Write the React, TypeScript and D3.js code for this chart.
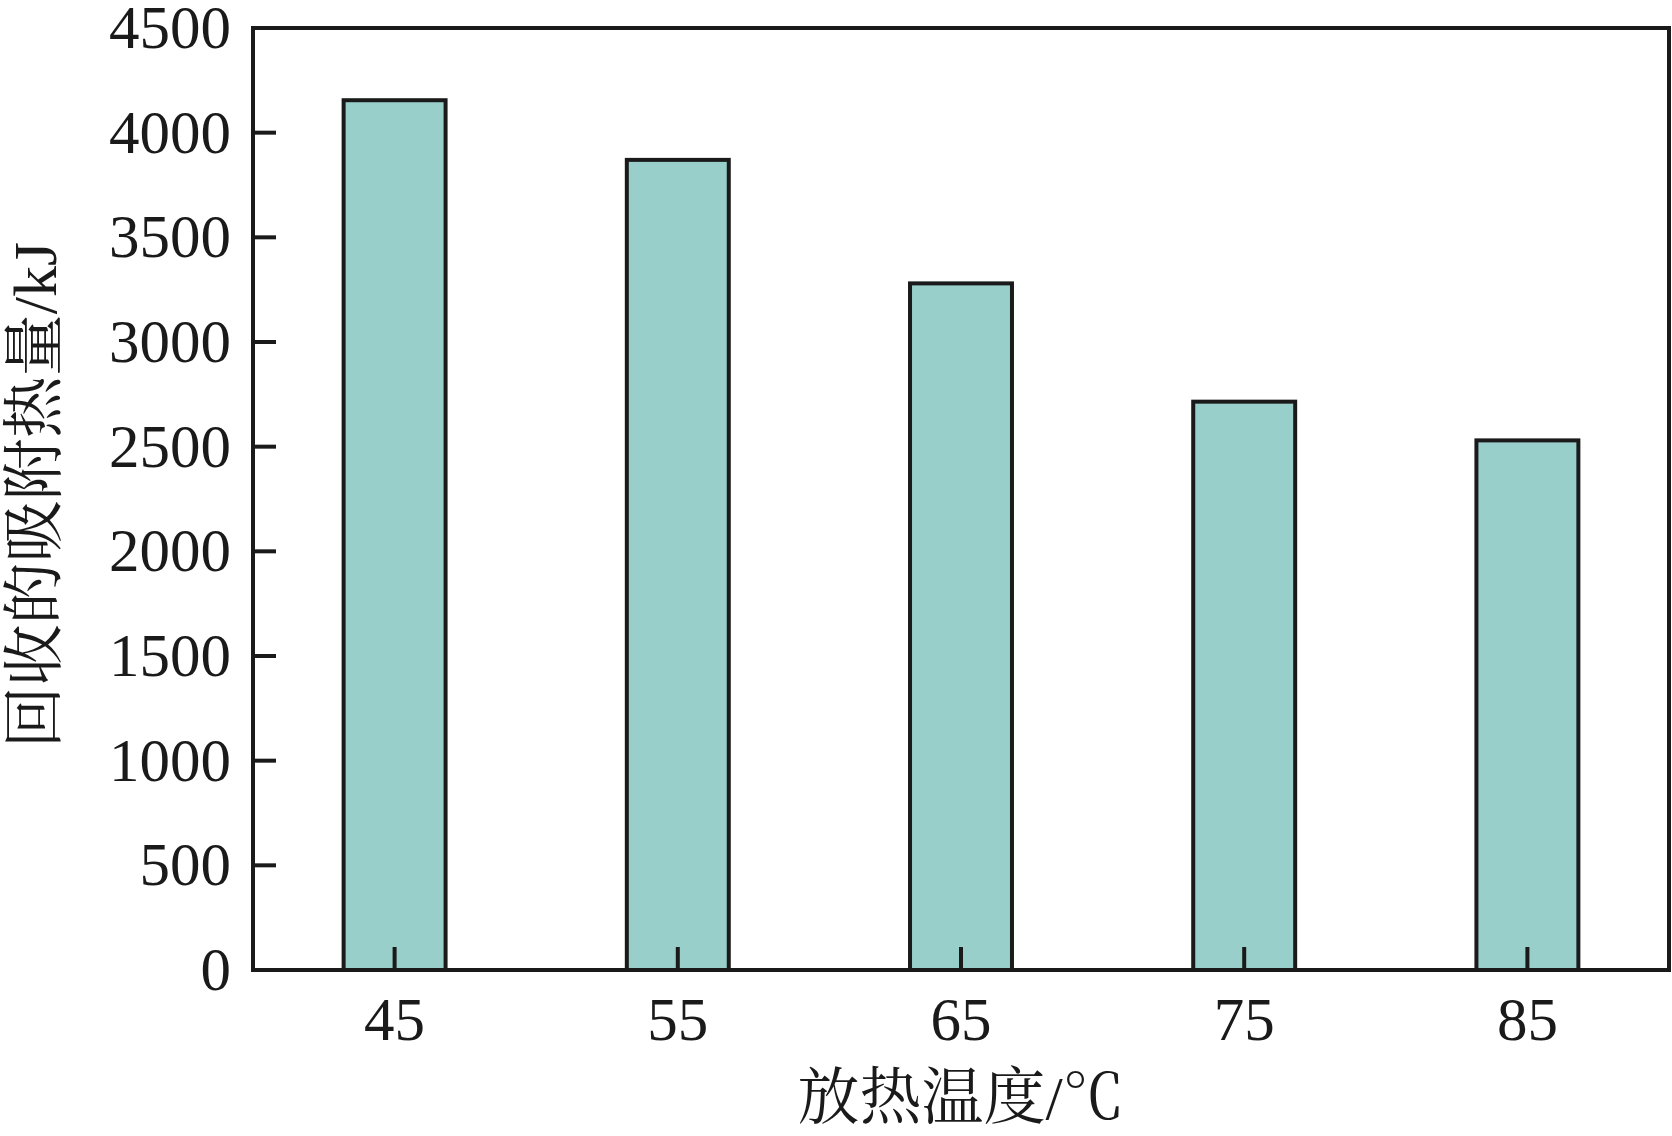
import React from "react";
import * as d3 from "d3";

const categories = ["45", "55", "65", "75", "85"];
const values = [4155, 3870, 3280, 2715, 2530];
const yTicks = [0, 500, 1000, 1500, 2000, 2500, 3000, 3500, 4000, 4500];
const xTitle = "放热温度/℃";
const yTitle = "回收的吸附热量/kJ";

const W = 1672;
const H = 1136;
const M = { left: 253, right: 3, top: 28, bottom: 166 };
const NUMFONT = "'Liberation Serif', 'Times New Roman', serif";
const FONT = "'Liberation Serif', 'Times New Roman', 'Noto Serif CJK SC', 'Noto Sans CJK SC', serif";

export default function App() {
  const x = d3
    .scaleBand<string>()
    .domain(categories)
    .range([M.left, W - M.right])
    .paddingInner(0.64)
    .paddingOuter(0.32);
  const y = d3.scaleLinear().domain([0, 4500]).range([H - M.bottom, M.top]);
  const x0 = M.left;
  const x1 = W - M.right;
  const y0 = y(0);
  const y1 = y(4500);
  const sw = 4;
  const tickLen = 23;
  return (
    <svg
      width={W}
      height={H}
      style={{ position: "absolute", left: 0, top: 0, background: "#fff" }}
    >
      <rect x={0} y={0} width={W} height={H} fill="#fff" />
      {categories.map((c, i) => (
        <rect
          key={c}
          x={x(c)}
          y={y(values[i])}
          width={x.bandwidth()}
          height={y0 - y(values[i])}
          fill="#99cfcb"
          stroke="#1a1a1a"
          strokeWidth={sw}
        />
      ))}
      {yTicks.slice(1, -1).map((t) => (
        <line key={t} x1={x0} x2={x0 + tickLen} y1={y(t)} y2={y(t)} stroke="#1a1a1a" strokeWidth={sw} />
      ))}
      {categories.map((c) => (
        <line
          key={c}
          x1={x(c)! + x.bandwidth() / 2}
          x2={x(c)! + x.bandwidth() / 2}
          y1={y0}
          y2={y0 - tickLen}
          stroke="#1a1a1a"
          strokeWidth={sw}
        />
      ))}
      <rect x={x0} y={y1} width={x1 - x0} height={y0 - y1} fill="none" stroke="#1a1a1a" strokeWidth={sw} />
      {yTicks.map((t) => (
        <text
          key={t}
          x={231}
          y={y(t)}
          dy="0.33em"
          textAnchor="end"
          fontFamily={NUMFONT}
          fontSize={61}
          fill="#1a1a1a"
        >
          {t}
        </text>
      ))}
      {categories.map((c) => (
        <text
          key={c}
          x={x(c)! + x.bandwidth() / 2}
          y={1040}
          textAnchor="middle"
          fontFamily={NUMFONT}
          fontSize={61}
          fill="#1a1a1a"
        >
          {c}
        </text>
      ))}
      <text
        x={(x0 + x1) / 2}
        y={1119}
        textAnchor="middle"
        fontFamily={FONT}
        fontSize={62}
        fill="#1a1a1a"
      >
        {xTitle}
      </text>
      <text
        transform={`translate(56, ${(y0 + y1) / 2 - 4}) rotate(-90)`}
        textAnchor="middle"
        fontFamily={FONT}
        fontSize={62}
        fill="#1a1a1a"
      >
        {yTitle}
      </text>
    </svg>
  );
}
